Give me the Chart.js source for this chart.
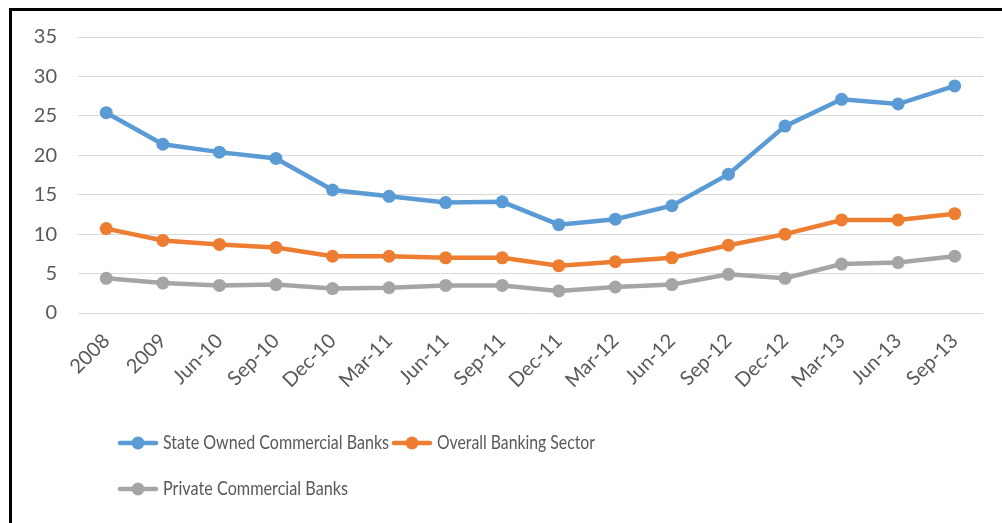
<!DOCTYPE html>
<html>
<head>
<meta charset="utf-8">
<script src="https://cdn.jsdelivr.net/npm/chart.js@4"></script>
<style>
  html, body { margin: 0; padding: 0; background: #fff; }
  #wrap { position: relative; width: 1002px; height: 523px; overflow: hidden; }
  #frame { position: absolute; left: 9px; top: 8px; width: 1100px; height: 600px;
           border-left: 3px solid #000; border-top: 3px solid #000; box-sizing: border-box; }
  canvas { position: absolute; left: 0; top: 0; }
</style>
</head>
<body>
<div id="wrap">
  <div id="frame"></div>
  <canvas id="c" width="1002" height="523"></canvas>
</div>
<script>
const categories = ["2008","2009","Jun-10","Sep-10","Dec-10","Mar-11","Jun-11","Sep-11","Dec-11","Mar-12","Jun-12","Sep-12","Dec-12","Mar-13","Jun-13","Sep-13"];
const stateOwned = [25.4, 21.4, 20.4, 19.6, 15.6, 14.8, 14.0, 14.1, 11.2, 11.9, 13.6, 17.6, 23.7, 27.1, 26.5, 28.8];
const overall    = [10.7, 9.2, 8.7, 8.3, 7.2, 7.2, 7.0, 7.0, 6.0, 6.5, 7.0, 8.6, 10.0, 11.8, 11.8, 12.6];
const privateCB  = [4.4, 3.8, 3.5, 3.6, 3.1, 3.2, 3.5, 3.5, 2.8, 3.3, 3.6, 4.9, 4.4, 6.2, 6.4, 7.2];
const yTicks = [0, 5, 10, 15, 20, 25, 30, 35];
const seriesNames = ["State Owned Commercial Banks", "Overall Banking Sector", "Private Commercial Banks"];
const seriesColors = ["#5B9BD5", "#ED7D31", "#A5A5A5"];

const FONT = "Lato, 'Open Sans', sans-serif";
const TEXT = "#595959";

function ds(label, data, color) {
  return {
    label, data,
    borderColor: color, backgroundColor: color,
    borderWidth: 4.5,
    pointRadius: 6.5, pointHoverRadius: 6.5,
    pointBorderWidth: 0,
    pointBackgroundColor: color,
    tension: 0
  };
}

const legendPlugin = {
  id: 'customLegend',
  afterDraw(chart) {
    const ctx = chart.ctx;
    const items = [
      {x: 120, y: 443, i: 0, w: 226},
      {x: 394, y: 443, i: 1, w: 158},
      {x: 120, y: 489, i: 2, w: 185}
    ];
    ctx.save();
    items.forEach(it => {
      const c = seriesColors[it.i];
      ctx.strokeStyle = c;
      ctx.lineWidth = 4.5;
      ctx.lineCap = 'round';
      ctx.beginPath();
      ctx.moveTo(it.x, it.y);
      ctx.lineTo(it.x + 36, it.y);
      ctx.stroke();
      ctx.fillStyle = c;
      ctx.beginPath();
      ctx.arc(it.x + 18, it.y, 6.5, 0, Math.PI * 2);
      ctx.fill();
      ctx.fillStyle = TEXT;
      ctx.font = "20px " + FONT;
      ctx.textAlign = 'left';
      ctx.textBaseline = 'middle';
      ctx.fillText(seriesNames[it.i], it.x + 43, it.y, it.w);
    });
    ctx.restore();
  }
};

new Chart(document.getElementById('c'), {
  type: 'line',
  data: {
    labels: categories,
    datasets: [
      ds(seriesNames[0], stateOwned, seriesColors[0]),
      ds(seriesNames[1], overall, seriesColors[1]),
      ds(seriesNames[2], privateCB, seriesColors[2])
    ]
  },
  options: {
    responsive: false,
    animation: false,
    events: [],
    layout: { padding: { top: 37, right: 19, left: 0, bottom: 0 } },
    plugins: { legend: { display: false }, tooltip: { enabled: false } },
    scales: {
      x: {
        offset: true,
        grid: { display: false, drawTicks: false },
        border: { display: false },
        ticks: {
          color: TEXT, font: { family: FONT, size: 20 },
          maxRotation: 45, minRotation: 45, padding: 16, autoSkip: false
        },
        afterFit(scale) { scale.height = 210; }
      },
      y: {
        min: 0, max: 35,
        afterBuildTicks(scale) { scale.ticks = yTicks.map(v => ({ value: v })); },
        grid: { color: "#D9D9D9", lineWidth: 1, drawTicks: false },
        border: { display: false },
        ticks: { color: TEXT, font: { family: FONT, size: 20 }, padding: 21 },
        afterFit(scale) { scale.width = 78; }
      }
    }
  },
  plugins: [legendPlugin]
});
</script>
</body>
</html>
